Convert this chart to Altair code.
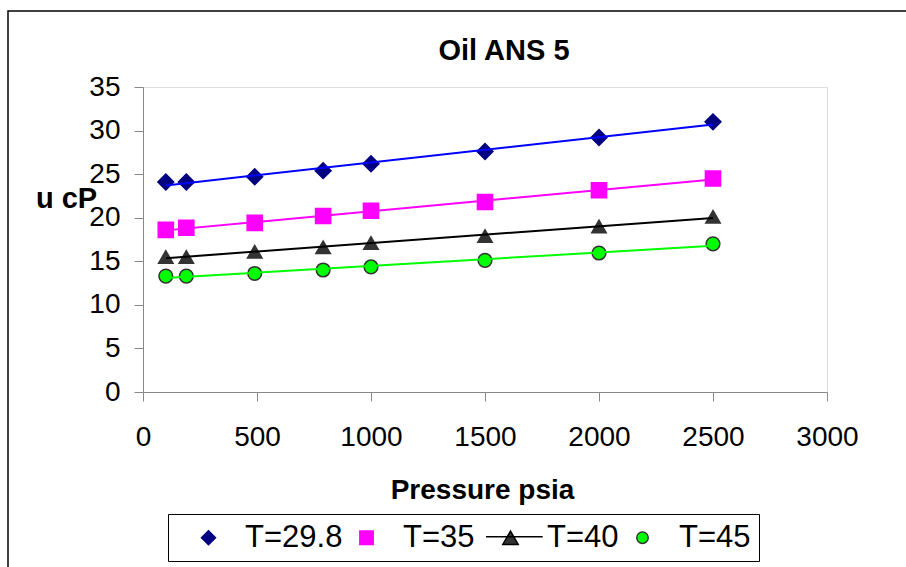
import altair as alt
import pandas as pd

# ---- data ----
pressure = [100, 190, 490, 790, 1000, 1500, 2000, 2500]
series_names = ["T=29.8", "T=35", "T=40", "T=45"]
visc_t298 = [24.1, 24.1, 24.7, 25.4, 26.2, 27.6, 29.2, 31.0]
visc_t35 = [18.6, 18.85, 19.4, 20.2, 20.8, 21.8, 23.15, 24.5]
visc_t40 = [15.5, 15.5, 16.1, 16.6, 17.1, 17.9, 19.0, 20.1]
visc_t45 = [13.3, 13.3, 13.6, 14.0, 14.35, 15.1, 15.95, 17.0]
x_ticks = [0, 500, 1000, 1500, 2000, 2500, 3000]
y_ticks = [0, 5, 10, 15, 20, 25, 30, 35]

rows = []
for name, vals in zip(series_names, [visc_t298, visc_t35, visc_t40, visc_t45]):
    for p, v in zip(pressure, vals):
        rows.append({"series": name, "p": p, "mu": v})
df = pd.DataFrame(rows)

FONT = "Liberation Sans"

line_colors = ["#0000FF", "#FF00FF", "#000000", "#00FF00"]
marker_fill = ["#000080", "#FF00FF", "#333333", "#00FF00"]
marker_stroke = ["#000080", "#FF00FF", "#333333", "#333333"]
marker_shapes = ["diamond", "square", "triangle-up", "circle"]
marker_sizes = [250, 188, 265, 144]
legend_shapes = [
    "M0,-1L1,0L0,1L-1,0Z",
    "M-0.95,-0.95H0.95V0.95H-0.95Z",
    "M-3.5,-0.15H4.6M0,-0.95L1.1,0.95L-1.1,0.95Z",
    "M0.82,0A0.82,0.82,0,1,1,-0.82,0A0.82,0.82,0,1,1,0.82,0Z",
]

x_enc = alt.X(
    "p:Q",
    scale=alt.Scale(domain=[0, 3000], nice=False, zero=False),
    axis=alt.Axis(
        values=x_ticks, format="d", grid=False, title="Pressure psia",
        labelFontSize=28, labelPadding=22, tickSize=9,
        titleFontSize=28, titleFontWeight="bold",
        titleX=339, titleY=106, titleAlign="center", titleBaseline="alphabetic",
        labelFlush=False, labelOverlap=False,
    ),
)
y_enc = alt.Y(
    "mu:Q",
    scale=alt.Scale(domain=[0, 35], nice=False, zero=False),
    axis=alt.Axis(
        values=y_ticks, format="d", grid=False, title="u cP",
        labelFontSize=28, labelPadding=14, tickSize=9,
        titleFontSize=29, titleFontWeight="bold", titleAngle=0,
        titleX=-77, titleY=120, titleAlign="center", titleBaseline="alphabetic",
        labelFlush=False, labelOverlap=False,
    ),
)

points = alt.Chart(df).mark_point(filled=True, opacity=1, strokeWidth=1.5).encode(
    x=x_enc,
    y=y_enc,
    shape=alt.Shape("series:N", scale=alt.Scale(domain=series_names, range=marker_shapes), legend=None),
    fill=alt.Fill("series:N", scale=alt.Scale(domain=series_names, range=marker_fill), legend=None),
    stroke=alt.Stroke("series:N", scale=alt.Scale(domain=series_names, range=marker_stroke), legend=None),
    size=alt.Size("series:N", scale=alt.Scale(domain=series_names, range=marker_sizes), legend=None),
)

lines = alt.Chart(df).transform_regression(
    "p", "mu", groupby=["series"], method="linear", extent=[100, 2500]
).mark_line(strokeWidth=2).encode(
    x=x_enc,
    y=y_enc,
    color=alt.Color("series:N", scale=alt.Scale(domain=series_names, range=line_colors), legend=None),
)

leg = alt.Legend(
    orient="none", legendX=25, legendY=427, direction="horizontal",
    strokeColor="black", fillColor="white", padding=8,
    labelFont=FONT, labelFontSize=31, labelColor="black", labelOffset=21,
    columnPadding=8, symbolSize=196, symbolStrokeWidth=1.5,
    titleOrient="left", titleFontSize=1, titlePadding=17, labelLimit=0,
)

legend_layer = alt.Chart(df).transform_filter("false").mark_point(
    filled=True, opacity=1, strokeWidth=1.5
).encode(
    x=x_enc,
    y=y_enc,
    shape=alt.Shape("series:N", title=" ", scale=alt.Scale(domain=series_names, range=legend_shapes), legend=leg),
    fill=alt.Fill("series:N", title=" ", scale=alt.Scale(domain=series_names, range=marker_fill), legend=leg),
    stroke=alt.Stroke("series:N", title=" ", scale=alt.Scale(domain=series_names, range=["#000080", "#FF00FF", "#000000", "#333333"]), legend=leg),
)

frame = alt.Chart(alt.Data(values=[{"k": 1}])).mark_rect(
    fill="transparent", stroke="black", strokeWidth=1.5
).encode(
    x=alt.value(-135), y=alt.value(-76), x2=alt.value(820), y2=alt.value(520)
)

chart = alt.layer(frame, points, lines, legend_layer).resolve_scale(
    shape="independent", fill="independent", stroke="independent",
    color="independent", size="independent",
).properties(
    width=684,
    height=305,
    autosize=alt.AutoSizeParams(type="none"),
    padding={"left": 143, "top": 87, "right": 79, "bottom": 175},
    title=alt.TitleParams(
        "Oil ANS 5", font=FONT, fontSize=29, fontWeight="bold", color="black",
        frame="group", anchor="middle", dx=19, offset=0, dy=79, baseline="alphabetic",
    ),
).configure_view(
    stroke="#808080", strokeWidth=2, fill="white"
).configure_axis(
    labelFont=FONT, titleFont=FONT, labelColor="black", titleColor="black",
    domainColor="black", tickColor="black", domainWidth=1.5, tickWidth=1.5,
).configure(background="white")

chart.save("out.html", embed_options={"renderer": "svg", "actions": False})
